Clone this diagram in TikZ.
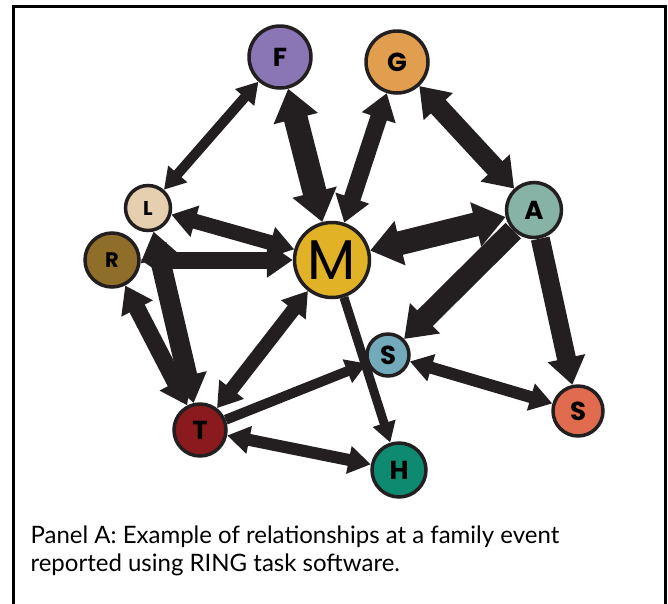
\documentclass[tikz,border=0pt]{standalone}
\usepackage{fontspec}
\setmainfont{Lato}
\newfontfamily\markfont{Poppins}
\usetikzlibrary{arrows.meta}
\definecolor{ink}{HTML}{231F20}
\definecolor{colF}{HTML}{8B76B5}
\definecolor{colG}{HTML}{E19E4F}
\definecolor{colL}{HTML}{E5CFAE}
\definecolor{colR}{HTML}{8F6E2A}
\definecolor{colM}{HTML}{E2B226}
\definecolor{colA}{HTML}{86B3A6}
\definecolor{colSb}{HTML}{73AABB}
\definecolor{colSr}{HTML}{E06B4E}
\definecolor{colT}{HTML}{8B1A1E}
\definecolor{colH}{HTML}{0E8A70}
\tikzset{head/.tip={Triangle[length=14pt 0.7, width=10pt 1.4]},
    person/.style 2 args={circle, draw=ink, line width=3.5pt, fill=#1,
        minimum size=#2, inner sep=0pt,
        font=\markfont\bfseries\fontsize{26}{26}\selectfont},
    tie/.style={draw=ink, line width=#1, head-head},
    tieto/.style={draw=ink, line width=#1, -head}
}

\begin{document}
\begin{tikzpicture}[x=1pt,y=-1pt]
    \useasboundingbox (0,0) rectangle (668,603);
    \draw[line width=3pt] (13.5,6) rectangle (665.5,620);  % Frame

    % People
    \node[person={colF}{62pt}] (F) at (280,57) {F};
    \node[person={colG}{62pt}] (G) at (397,62) {G};
    \node[person={colL}{45pt}, font=\markfont\bfseries\fontsize{20}{20}\selectfont] (L) at (148,208) {L};
    \node[person={colR}{54pt}, font=\markfont\bfseries\fontsize{21}{21}\selectfont] (R) at (112,260) {R};
    \node[person={colM}{75pt}, font=\markfont\fontsize{56}{56}\selectfont] (M) at (332,260) {M};
    \node[person={colA}{55pt}] (A) at (534,210) {A};
    \node[person={colSb}{42pt}] (Sb) at (388,355) {S};
    \node[person={colSr}{50pt}] (Sr) at (578,411) {S};
    \node[person={colT}{52pt}] (T) at (200,430) {T};
    \node[person={colH}{54pt}] (H) at (399,470) {H};

    % Ties to M
    \draw[tie=24pt] (M) -- (F);
    \draw[tie=17pt] (M) -- (G);
    \draw[tie=15pt] (M) -- (L);
    \draw[tie=17pt] (M) -- (R);
    \draw[tie=24pt] (M) -- (A);
    \draw[tie=14pt] (M) -- (T);
    \draw[tieto=9pt] (M) -- (H);

    % Other ties
    \draw[tie=10pt] (F) -- (L);
    \draw[tie=20pt] (G) -- (A);
    \draw[tieto=22pt] (A) -- (Sb);
    \draw[tieto=19pt] (A) -- (Sr);
    \draw[tie=12pt] (Sb) -- (Sr);
    \draw[tieto=10pt] (T) -- (Sb);
    \draw[tie=12pt] (T) -- (H);
    \draw[tie=17pt] (T) -- (R);
    \draw[tie=20pt] (T) -- (L);

    % Caption
    \node[anchor=base west, align=left, font=\fontsize{24}{28}\selectfont] (cap) at (27,571)
        {Panel A: Example of relationships at a family event\\reported using RING task software.};
\end{tikzpicture}
\end{document}
